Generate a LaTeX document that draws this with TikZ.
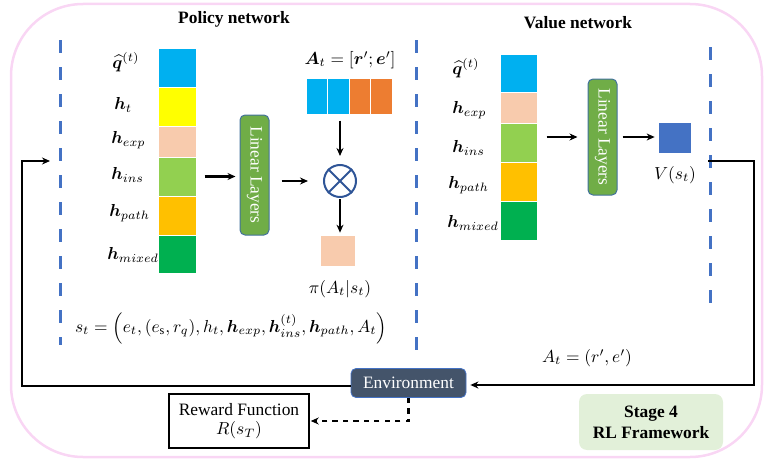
\documentclass[tikz,border=0pt]{standalone}
\usepackage{amsmath}
\usepackage{bm}
\usepackage{fontspec}
\setmainfont{Liberation Serif}
\usetikzlibrary{arrows.meta,calc}
\def\pxu{0.575pt}
\definecolor{cblue}{HTML}{00B0F0}
\definecolor{cyellow}{HTML}{FFFF00}
\definecolor{cpeach}{HTML}{F8CBAD}
\definecolor{clgreen}{HTML}{92D050}
\definecolor{cgold}{HTML}{FFC000}
\definecolor{cdgreen}{HTML}{00B050}
\definecolor{corange}{HTML}{ED7D31}
\definecolor{clin}{HTML}{70AD47}
\definecolor{clinb}{HTML}{41719C}
\definecolor{cdash}{HTML}{4472C4}
\definecolor{cotimes}{HTML}{2F5597}
\definecolor{cenv}{HTML}{44546A}
\definecolor{cstage}{HTML}{E2F0D9}
\definecolor{cpink}{HTML}{F9D6F4}
\tikzset{
  cell/.style={draw=white, line width=1*\pxu, inner sep=0pt},
  lin/.style={draw=clinb, fill=clin, rounded corners=5*\pxu, line width=1*\pxu, inner sep=0pt,
    minimum width=29*\pxu, text=white},
  lbl/.style={inner sep=0pt, anchor=west},
  tip/.style={-{Stealth[length=8*\pxu,width=7*\pxu]}},
  arr/.style={tip, line width=2.2*\pxu},
  fb/.style={line width=2.2*\pxu},
  dashln/.style={draw=cdash, line width=3*\pxu, dash pattern=on 13*\pxu off 14*\pxu},
  ttl/.style={font=\bfseries, inner sep=0pt},
}
\begin{document}
\begin{tikzpicture}[x=0.575pt, y=-0.575pt]
\useasboundingbox (0,0) rectangle (764,460);
% outer frame
\draw[cpink, line width=2.5*\pxu, rounded corners=72*\pxu] (11,4) rectangle (762,457);
% titles
\node[ttl] (ptitle) at (234,19) {Policy network};
\node[ttl] (vtitle) at (578,23) {Value network};
% dashed separators
\coordinate (d1a) at (60,40); \coordinate (d1b) at (60,345);
\coordinate (d2a) at (416,40); \coordinate (d2b) at (416,350);
\coordinate (d3a) at (710,47); \coordinate (d3b) at (710,315);
\draw[dashln] (d1a) -- (d1b);
\draw[dashln] (d2a) -- (d2b);
\draw[dashln] (d3a) -- (d3b);
% policy column
\node[cell, fill=cblue, minimum width=38*\pxu, minimum height=39*\pxu] (pq) at (177,67.5) {};
\node[cell, fill=cyellow, minimum width=38*\pxu, minimum height=39*\pxu] (pt) at (177,106.5) {};
\node[cell, fill=cpeach, minimum width=38*\pxu, minimum height=31*\pxu] (pexp) at (177,141.5) {};
\node[cell, fill=clgreen, minimum width=38*\pxu, minimum height=39*\pxu] (pins) at (177,176.5) {};
\node[cell, fill=cgold, minimum width=38*\pxu, minimum height=39*\pxu] (ppath) at (177,215.5) {};
\node[cell, fill=cdgreen, minimum width=38*\pxu, minimum height=38*\pxu] (pmix) at (177,254) {};
\node[lbl] (lpq) at (112,62) {$\widehat{\bm{q}}^{(t)}$};
\node[lbl] (lpt) at (114,105) {$\bm{h}_t$};
\node[lbl] (lpexp) at (111,140) {$\bm{h}_{exp}$};
\node[lbl] (lpins) at (111,175) {$\bm{h}_{ins}$};
\node[lbl] (lppath) at (109,213) {$\bm{h}_{path}$};
\node[lbl] (lpmix) at (107,255) {$\bm{h}_{mixed}$};
% policy linear
\node[lin, minimum height=120*\pxu] (plin) at (254.5,175) {\rotatebox{-90}{Linear Layers}};
% A_t vector
\node[inner sep=0pt] (atl) at (350,60) {$\bm{A}_t=[\bm{r}';\bm{e}']$};
\node[cell, fill=cblue, minimum width=21.5*\pxu, minimum height=36*\pxu] (a1) at (316.75,96) {};
\node[cell, fill=cblue, minimum width=21.5*\pxu, minimum height=36*\pxu] (a2) at (338.25,96) {};
\node[cell, fill=corange, minimum width=21.5*\pxu, minimum height=36*\pxu] (a3) at (359.75,96) {};
\node[cell, fill=corange, minimum width=21.5*\pxu, minimum height=36*\pxu] (a4) at (381.25,96) {};
% otimes
\node[circle, draw=cotimes, line width=2*\pxu, minimum size=32*\pxu, inner sep=0pt] (ot) at (340,181) {};
\draw[cotimes, line width=2*\pxu] (ot.north west) -- (ot.south east) (ot.north east) -- (ot.south west);
% output
\node[fill=cpeach, minimum width=34*\pxu, minimum height=30*\pxu, inner sep=0pt] (pout) at (338,251) {};
\node[inner sep=0pt] (pil) at (340,289) {$\pi(A_t|s_t)$};
% state formula
\node[inner sep=0pt] (st) at (231,328) {$s_t=\Bigl(e_t,(e_{\mathrm{s}},r_q),h_t,\bm{h}_{exp},\bm{h}_{ins}^{(t)},\bm{h}_{path},A_t\Bigr)$};
% policy arrows
\draw[arr, shorten <=8*\pxu, shorten >=4*\pxu] (pins.east) -- (pins.east -| plin.west);
\draw[arr, shorten <=12*\pxu, shorten >=15*\pxu] (plin.east |- ot.west) -- (ot.west);
\draw[arr, shorten <=6*\pxu, shorten >=8*\pxu] (ot.north |- a2.south) -- (ot.north);
\draw[arr, shorten <=1*\pxu, shorten >=3*\pxu] (ot.south) -- (ot.south |- pout.north);
% value column
\node[cell, fill=cblue, minimum width=37*\pxu, minimum height=38*\pxu] (vq) at (518.5,73) {};
\node[cell, fill=cpeach, minimum width=37*\pxu, minimum height=31*\pxu] (vexp) at (518.5,107.5) {};
\node[cell, fill=clgreen, minimum width=37*\pxu, minimum height=39*\pxu] (vins) at (518.5,142.5) {};
\node[cell, fill=cgold, minimum width=37*\pxu, minimum height=39*\pxu] (vpath) at (518.5,181.5) {};
\node[cell, fill=cdgreen, minimum width=37*\pxu, minimum height=39*\pxu] (vmix) at (518.5,220.5) {};
\node[lbl] (lvq) at (452,68) {$\widehat{\bm{q}}^{(t)}$};
\node[lbl] (lvexp) at (452,110) {$\bm{h}_{exp}$};
\node[lbl] (lvins) at (452,148) {$\bm{h}_{ins}$};
\node[lbl] (lvpath) at (448,185) {$\bm{h}_{path}$};
\node[lbl] (lvmix) at (447,223) {$\bm{h}_{mixed}$};
\node[lin, minimum height=116*\pxu] (vlin) at (602.5,137) {\rotatebox{-90}{Linear Layers}};
\node[fill=cdash, minimum width=32*\pxu, minimum height=30*\pxu, inner sep=0pt] (vout) at (675,138) {};
\node[inner sep=0pt] (vl) at (675,175) {$V(s_t)$};
\draw[arr, shorten <=9*\pxu, shorten >=10*\pxu] (vins.east |- vlin.west) -- (vlin.west);
\draw[arr, shorten <=5*\pxu, shorten >=4*\pxu] (vlin.east) -- (vlin.east -| vout.west);
% environment
\node[fill=cenv, draw=cdash, line width=0.8*\pxu, rounded corners=5*\pxu, minimum width=115*\pxu,
  minimum height=29*\pxu, inner sep=0pt, text=white] (env) at (408.5,383) {Environment};
\node[inner sep=0pt] (atr) at (587,358) {$A_t=(r',e')$};
% reward
\node[draw=black, line width=1.5*\pxu, minimum width=140*\pxu, minimum height=54*\pxu, inner sep=0pt,
  align=center] (rew) at (239,421) {Reward Function\\[-1pt]$R(s_T)$};
% stage
\node[fill=cstage, rounded corners=8*\pxu, minimum width=144*\pxu, minimum height=56*\pxu, inner sep=0pt,
  align=center, font=\bfseries] (stage) at (651,422) {Stage 4\\RL Framework};
% feedback loops
\coordinate (r0) at (708,161);
\coordinate (r1) at (754,161);
\coordinate (r2) at (754,385);
\draw[fb, tip, shorten >=4*\pxu] (r0) -- (r1) -- (r2) -- (env.east |- r2);
\coordinate (l1) at (22,386);
\coordinate (l2) at (22,161);
\coordinate (l3) at (50,161);
\draw[fb, tip] (env.west |- l1) -- (l1) -- (l2) -- (l3);
\coordinate (dd) at (408.5,421);
\draw[fb, dashed, tip, shorten >=1*\pxu] (env.south) -- (dd) -- (rew.east);
\end{tikzpicture}
\end{document}
